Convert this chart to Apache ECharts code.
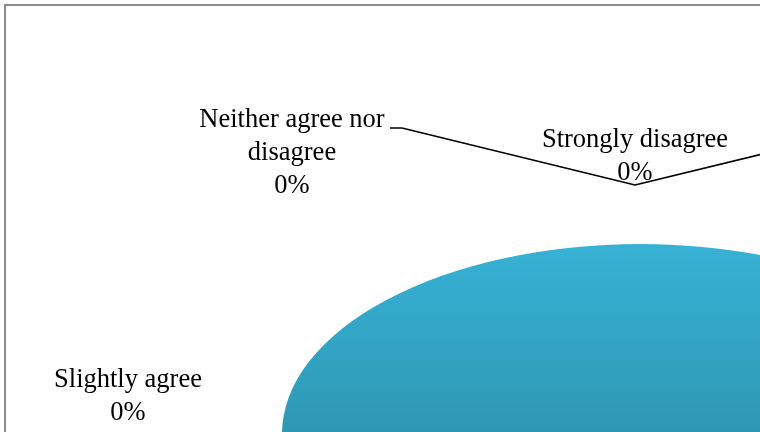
<!DOCTYPE html>
<html><head><meta charset="utf-8">
<script src="https://cdn.jsdelivr.net/npm/echarts@6/dist/echarts.min.js"></script>
<style>html,body{margin:0;padding:0;background:#fff}#c{width:760px;height:432px}</style>
</head><body><div id="c"></div>
<script>
// ---- data ----
const categories = ['Strongly agree', 'Slightly agree', 'Neither agree nor disagree', 'Strongly disagree', 'Slightly disagree'];
const values = [100, 0, 0, 0, 0];
const labelNames = ['Strongly agree', 'Slightly agree', 'Neither agree nor\ndisagree', 'Strongly disagree', 'Slightly disagree'];

// ---- layout / style (not data) ----
const pieGeom = { cx: 640, cy: 434, rx: 358, ry: 190 };
const anchor = [635, 185];
const labelLayout = [
  { show: false },
  { show: true, x: 128, y: 397, line: null },
  { show: true, x: 292, y: 153, line: [[390, 128], [402, 128]] },
  { show: true, x: 635, y: 157, line: null },
  { show: false, line: [[820, 140]] }
];
const fontCss = '26.5px "Liberation Serif", "Times New Roman", serif';

const total = values.reduce((a, b) => a + b, 0);
const starts = [];
let acc = 0;
values.forEach(v => { starts.push(acc); acc += v; });

function pt(theta) {
  return [pieGeom.cx + pieGeom.rx * Math.sin(theta), pieGeom.cy - pieGeom.ry * Math.cos(theta)];
}

function renderItem(params, api) {
  const i = params.dataIndex;
  const v = api.value(1);
  const children = [];
  const frac = total ? v / total : 0;
  if (frac > 0) {
    const { cx, cy, rx, ry } = pieGeom;
    let d;
    if (frac >= 0.99999) {
      d = `M ${cx - rx} ${cy} A ${rx} ${ry} 0 1 1 ${cx + rx} ${cy} A ${rx} ${ry} 0 1 1 ${cx - rx} ${cy} Z`;
    } else {
      const a0 = starts[i] / total * Math.PI * 2;
      const a1 = a0 + frac * Math.PI * 2;
      const p0 = pt(a0), p1 = pt(a1);
      d = `M ${cx} ${cy} L ${p0[0]} ${p0[1]} A ${rx} ${ry} 0 ${frac > 0.5 ? 1 : 0} 1 ${p1[0]} ${p1[1]} Z`;
    }
    children.push({
      type: 'path',
      shape: { pathData: d },
      style: {
        fill: new echarts.graphic.LinearGradient(0, 244, 0, 432, [
          { offset: 0, color: '#37b1d5' },
          { offset: 1, color: '#2e98b4' }
        ], true)
      }
    });
  }
  const L = labelLayout[i];
  if (L.line) {
    const pts = L.line.concat([anchor]);
    children.push({ type: 'polyline', shape: { points: pts }, style: { stroke: '#000', lineWidth: 1.7, fill: null } });
  }
  if (L.show) {
    const pct = Math.round(frac * 100) + '%';
    children.push({
      type: 'text',
      style: {
        text: labelNames[i] + '\n' + pct,
        x: L.x, y: L.y,
        align: 'center', verticalAlign: 'middle',
        font: fontCss, lineHeight: 33, fill: '#000'
      }
    });
  }
  return { type: 'group', children };
}

const chart = echarts.init(document.getElementById('c'), null, { renderer: 'canvas' });
chart.setOption({
  animation: false,
  backgroundColor: '#fff',
  graphic: [{
    type: 'rect', shape: { x: 5, y: 5, width: 820, height: 500 },
    style: { fill: 'none', stroke: '#8c8c8c', lineWidth: 2 }, z: 10
  }],
  series: [{
    type: 'custom',
    coordinateSystem: 'none',
    renderItem,
    data: categories.map((c, i) => ({ name: c, value: [i, values[i]] }))
  }]
});
</script></body></html>
